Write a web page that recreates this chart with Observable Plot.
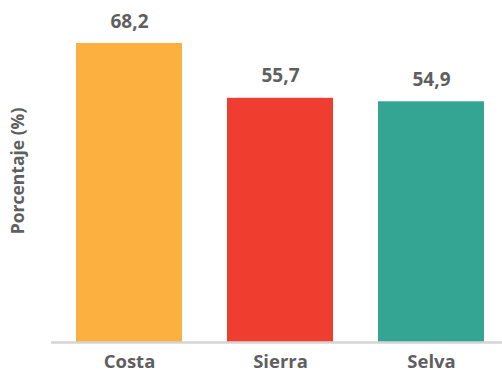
<!DOCTYPE html>
<html>
<head>
<meta charset="utf-8">
<script src="https://cdn.jsdelivr.net/npm/d3@7"></script>
<script src="https://cdn.jsdelivr.net/npm/@observablehq/plot@0.6"></script>
<style>
  body { margin: 0; background: #fff; }
  svg { font-family: "Open Sans", sans-serif; }
</style>
</head>
<body>
<div id="chart"></div>
<script>
const regions = ["Costa", "Sierra", "Selva"];
const values = [68.2, 55.7, 54.9];
const colors = ["#FBB040", "#EF3E2F", "#35A593"];
const yLabel = "Porcentaje (%)";

const data = regions.map((r, i) => ({region: r, value: values[i]}));
const fmt = v => v.toFixed(1).replace(".", ",");

const chart = Plot.plot({
  width: 502,
  height: 373,
  marginTop: 43,
  marginBottom: 31,
  marginLeft: 51,
  marginRight: 0,
  style: {fontFamily: "'Open Sans', sans-serif", background: "#fff"},
  x: {domain: regions, paddingInner: 0.3, paddingOuter: 0.14, align: 0.566, label: null},
  y: {domain: [0, 68.2], axis: null},
  color: {domain: regions, range: colors},
  marks: [
    Plot.barY(data, {x: "region", y: "value", fill: "region"}),
    Plot.ruleY([0], {stroke: "#d4d4d4", strokeWidth: 2.5}),
    Plot.text(data, {x: "region", y: "value", text: d => fmt(d.value), dy: -22,
      fontSize: 19, fontWeight: "bold", fill: "#5f5f61"}),
    Plot.axisX({tickSize: 0, tickPadding: 12, fontSize: 18.5, fontWeight: "bold",
      color: "#5f5f61", label: null}),
    Plot.text([yLabel], {frameAnchor: "left", textAnchor: "middle", rotate: -90, dx: -33, dy: -22,
      fontSize: 17.5, fontWeight: "bold", fill: "#5f5f61"})
  ]
});
document.getElementById("chart").appendChild(chart);
</script>
</body>
</html>
